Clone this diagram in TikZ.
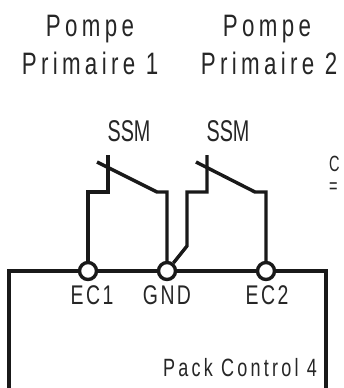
\documentclass[tikz,border=0pt]{standalone}
\usepackage{fontspec}
\setmainfont{Liberation Sans}
\newfontfamily\titlef[FakeStretch=0.72,LetterSpace=14]{Liberation Sans}
\newfontfamily\pinf[FakeStretch=0.72,LetterSpace=9]{Liberation Sans}
\newfontfamily\packf[FakeStretch=0.72,LetterSpace=13]{Liberation Sans}
\newfontfamily\ssmf[FakeStretch=0.66]{Liberation Sans}
\tikzset{
 wire/.style={line width=3.4pt,black!90,line join=miter},
 pin/.style={circle,draw=black!90,line width=3.4pt,fill=white,minimum size=17pt,inner sep=0pt},
 lbl/.style={inner sep=0pt,text=black!85,anchor=base},
 title/.style={lbl,font=\titlef\fontsize{31}{31}\selectfont},
 pinlabel/.style={lbl,font=\pinf\fontsize{27}{27}\selectfont},
 packlabel/.style={lbl,font=\packf\fontsize{25}{25}\selectfont},
 ssmlabel/.style={lbl,font=\ssmf\fontsize{30}{30}\selectfont},
 smalllabel/.style={lbl,font=\ssmf\fontsize{22}{22}\selectfont,anchor=base west},
}
\begin{document}
\begin{tikzpicture}[x=1pt,y=-1pt]
\useasboundingbox (0,0) rectangle (343,388);
\clip (0,0) rectangle (343,388);
\fill[white] (0,0) rectangle (343,388);
\draw[wire] (9,392) -- (9,271) -- (326,271) -- (326,392);
\node[pin] (ec1) at (88,271) {};
\node[pin] (gnd) at (167,271) {};
\node[pin] (ec2) at (266,271) {};
\coordinate (p1) at (108,155);
\coordinate (b1) at (97,162);
\coordinate (p2) at (207,155);
\coordinate (b2) at (196,162);
\draw[wire] (p1) -- (108,192) -- (88,192) -- (ec1);
\draw[wire] (b1) -- (157,192) -- (167,192) -- (gnd);
\draw[wire] (p2) -- (207,192) -- (187,192) -- (187,246) -- (gnd);
\draw[wire] (b2) -- (255,192) -- (266,192) -- (ec2);
\node[title] (t1) at (90,36) {Pompe};
\node[title] (t2) at (90,74) {Primaire 1};
\node[title] (t3) at (267,36) {Pompe};
\node[title] (t4) at (269,74) {Primaire 2};
\node[ssmlabel] (s1) at (129,141) {SSM};
\node[ssmlabel] (s2) at (228,141) {SSM};
\node[smalllabel] (c) at (329,171) {C};
\node[smalllabel] (eq) at (329,193) {=};
\node[pinlabel] (l1) at (92,304) {EC1};
\node[pinlabel] (l2) at (167,304) {GND};
\node[pinlabel] (l3) at (267,304) {EC2};
\node[packlabel] (pc) at (240,376) {Pack Control 4};
\end{tikzpicture}
\end{document}
